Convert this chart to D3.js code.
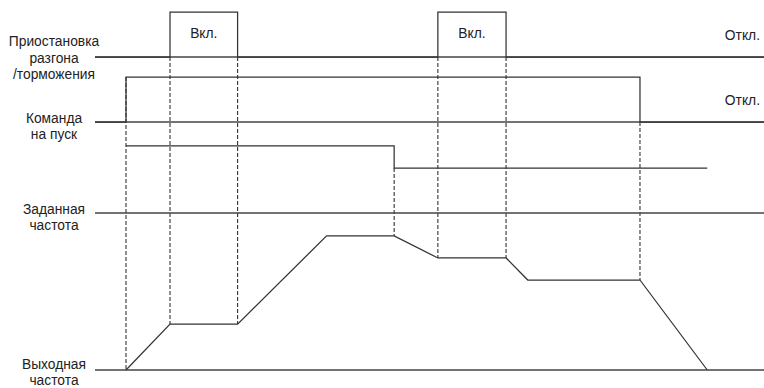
<!DOCTYPE html>
<html>
<head>
<meta charset="utf-8">
<script src="https://cdn.jsdelivr.net/npm/d3@7"></script>
<style>
  body { margin: 0; background: #fff; }
  text { font-family: "Liberation Sans", Arial, sans-serif; font-size: 13.8px; fill: #222; }
</style>
</head>
<body>
<div id="chart"></div>
<script>
// time axis in arbitrary units, signal levels in units of one "digital high"
var rowNames = [["Приостановка", "разгона", "/торможения"], ["Команда", "на пуск"], ["Заданная", "частота"], ["Выходная", "частота"]];

var pauseTimes  = [0, 2.42, 4.6, 11.06, 13.26, 21.6];
var pauseLevels = [0, 1, 0, 1, 0, 0];
var pauseText   = ["Вкл.", "Вкл."];

var runTimes  = [0, 1.0, 17.58, 21.6];
var runLevels = [0, 1, 0, 0];

var setTimes  = [1.0, 9.65, 9.65, 19.75];
var setLevels = [1.49, 1.49, 1.0, 1.0];

var outTimes  = [1.0, 2.42, 4.6, 7.47, 9.65, 11.06, 13.26, 13.96, 17.58, 19.75];
var outLevels = [0, 1.02, 1.02, 2.98, 2.98, 2.49, 2.49, 2.0, 2.0, 0];

var offLabels = ["Откл.", "Откл."];

// dashed guides: time, row/level at top, level on the output row at bottom
var guideTimes     = [1.0, 2.42, 4.6, 9.65, 11.06, 13.26, 17.58];
var guideTopRow    = [1, 0, 0, 2, 0, 0, 1];
var guideTopLevel  = [1, 0, 0, 1.0, 0, 0, 0];
var guideBotLevel  = [0, 1.02, 1.02, 2.98, 2.49, 2.49, 2.0];

var width = 764, height = 388;
var rowBase = [57, 122, 213, 370];
var unit = 45;

var svg = d3.select("#chart").append("svg")
    .attr("width", width)
    .attr("height", height);

var x = d3.scaleLinear().domain([0, 21.6]).range([95, 764.6]);
var lvl = d3.scaleLinear().domain([0, 1]).range([0, -unit]);
function y(row, v) { return rowBase[row] + lvl(v); }

var stroke = "#333";

// dashed guides
svg.selectAll("line.guide")
  .data(guideTimes)
  .enter()
  .append("line")
    .attr("class", "guide")
    .attr("x1", function (d) { return x(d); })
    .attr("x2", function (d) { return x(d); })
    .attr("y1", function (d, i) { return y(guideTopRow[i], guideTopLevel[i]); })
    .attr("y2", function (d, i) { return y(3, guideBotLevel[i]); })
    .style("stroke", "#333")
    .style("stroke-width", 1.1)
    .style("stroke-dasharray", "4,2");

// baselines
svg.selectAll("line.base")
  .data(rowBase)
  .enter()
  .append("line")
    .attr("x1", x(0))
    .attr("x2", x(21.6))
    .attr("y1", function (d, i) { return y(i, 0); })
    .attr("y2", function (d, i) { return y(i, 0); })
    .style("stroke", "#444")
    .style("stroke-width", 1.3);

function trace(row, times, levels, curve) {
  var pts = times.map(function (t, i) { return [t, levels[i]]; });
  var line = d3.line()
      .x(function (d) { return x(d[0]); })
      .y(function (d) { return y(row, d[1]); })
      .curve(curve);
  svg.append("path")
      .attr("d", line(pts))
      .style("fill", "none")
      .style("stroke", stroke)
      .style("stroke-width", 1.25);
}

trace(0, pauseTimes, pauseLevels, d3.curveStepAfter);
trace(1, runTimes, runLevels, d3.curveStepAfter);
trace(2, setTimes, setLevels, d3.curveLinear);
trace(3, outTimes, outLevels, d3.curveLinear);

// "Вкл." labels inside the pulses
var pulseStarts = pauseTimes.filter(function (t, i) { return pauseLevels[i] === 1; });
svg.selectAll("text.on")
  .data(pulseStarts)
  .enter()
  .append("text")
    .attr("x", function (d) { return (x(d) + x(pauseTimes[pauseTimes.indexOf(d) + 1])) / 2; })
    .attr("y", 38)
    .attr("text-anchor", "middle")
    .text(function (d, i) { return pauseText[i]; });

// "Откл." labels on the right
svg.selectAll("text.off")
  .data(offLabels)
  .enter()
  .append("text")
    .attr("x", 760)
    .attr("y", function (d, i) { return y(i, 0) - 17; })
    .attr("text-anchor", "end")
    .text(function (d) { return d; });

// row names
var nameTop = [46, 123, 214, 369];
rowNames.forEach(function (lines, r) {
  var t = svg.append("text")
      .attr("x", 54)
      .attr("y", nameTop[r])
      .attr("text-anchor", "middle");
  lines.forEach(function (s, k) {
    t.append("tspan")
      .attr("x", 54)
      .attr("dy", k === 0 ? 0 : (r === 0 ? 16.5 : 15.5))
      .text(s);
  });
});
</script>
</body>
</html>
